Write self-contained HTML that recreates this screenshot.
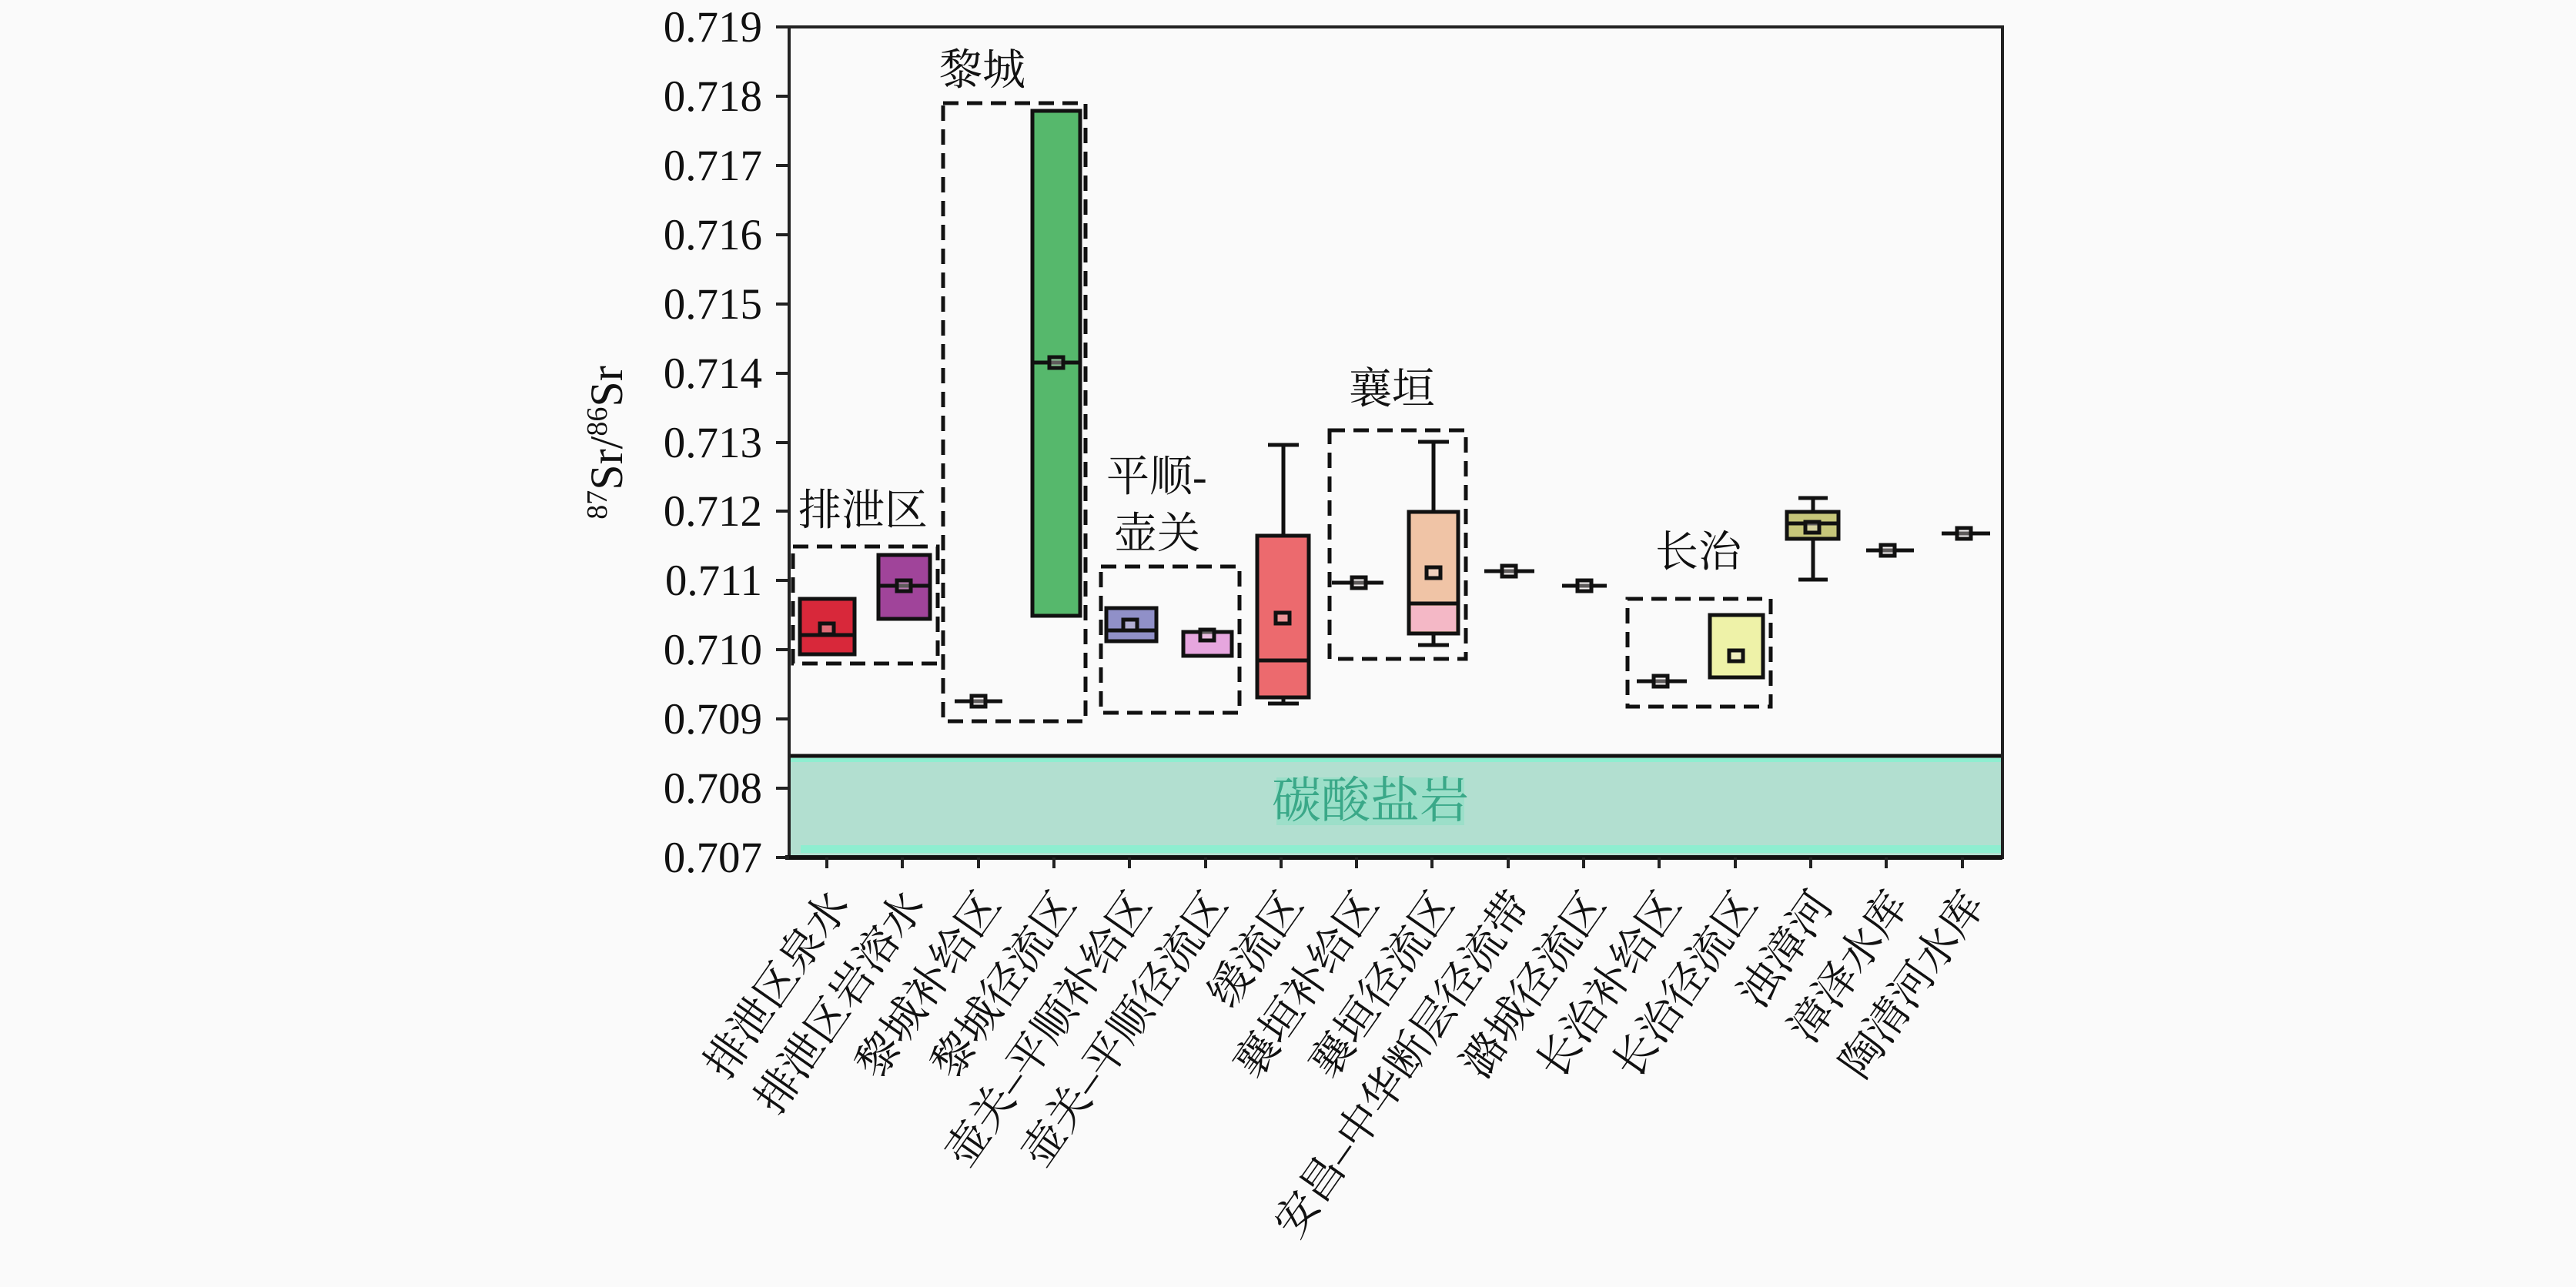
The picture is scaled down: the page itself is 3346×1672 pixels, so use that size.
<!DOCTYPE html>
<html><head><meta charset="utf-8"><style>
html,body{margin:0;padding:0;background:#fafafa;}
svg{display:block}
</style></head><body>
<svg width="3346" height="1672" viewBox="0 0 3346 1672" xmlns="http://www.w3.org/2000/svg">
<rect width="3346" height="1672" fill="#fafafa"/>
<!-- carbonate band -->
<rect x="1025" y="982" width="1576" height="132" fill="#b2dfd0"/>
<rect x="1025" y="985" width="1576" height="5" fill="#8eeed0"/>
<rect x="1040" y="1098" width="1561" height="10" fill="#8eeed0"/>
<line x1="1025" y1="982" x2="2601" y2="982" stroke="#111" stroke-width="5"/>
<rect x="1658" y="1010" width="244" height="62" fill="#8ee0c4" opacity="0.6"/>
<text x="1780" y="1062" font-family="Liberation Serif, 'Noto Serif CJK SC', serif" font-size="64" fill="#3aa888" text-anchor="middle">碳酸盐岩</text>
<!-- axes frame -->
<rect x="1025" y="35" width="1576" height="1079" fill="none" stroke="#222" stroke-width="4"/>
<line x1="1020" y1="1114" x2="2601" y2="1114" stroke="#111" stroke-width="6"/>
<!-- y ticks & labels -->
<g stroke="#222" stroke-width="4">
<line x1="1008" y1="35" x2="1025" y2="35"/><line x1="1008" y1="125" x2="1025" y2="125"/><line x1="1008" y1="215" x2="1025" y2="215"/><line x1="1008" y1="305" x2="1025" y2="305"/><line x1="1008" y1="395" x2="1025" y2="395"/><line x1="1008" y1="485" x2="1025" y2="485"/><line x1="1008" y1="575" x2="1025" y2="575"/><line x1="1008" y1="664" x2="1025" y2="664"/><line x1="1008" y1="754" x2="1025" y2="754"/><line x1="1008" y1="844" x2="1025" y2="844"/><line x1="1008" y1="934" x2="1025" y2="934"/><line x1="1008" y1="1024" x2="1025" y2="1024"/><line x1="1008" y1="1114" x2="1025" y2="1114"/>
</g>
<g font-family="Liberation Serif, serif" font-size="57" fill="#111" text-anchor="end">
<text x="990" y="54">0.719</text><text x="990" y="144">0.718</text><text x="990" y="234">0.717</text><text x="990" y="324">0.716</text><text x="990" y="414">0.715</text><text x="990" y="504">0.714</text><text x="990" y="594">0.713</text><text x="990" y="683">0.712</text><text x="990" y="773">0.711</text><text x="990" y="863">0.710</text><text x="990" y="953">0.709</text><text x="990" y="1043">0.708</text><text x="990" y="1133">0.707</text>
</g>
<text transform="translate(808,575) rotate(-90)" font-family="Liberation Serif, serif" font-size="60" fill="#111" text-anchor="middle"><tspan font-size="38" dy="-20">87</tspan><tspan dy="20">Sr/</tspan><tspan font-size="38" dy="-20">86</tspan><tspan dy="20">Sr</tspan></text>
<!-- x ticks -->
<g stroke="#222" stroke-width="4">
<line x1="1074" y1="1114" x2="1074" y2="1128"/><line x1="1172" y1="1114" x2="1172" y2="1128"/><line x1="1271" y1="1114" x2="1271" y2="1128"/><line x1="1369" y1="1114" x2="1369" y2="1128"/><line x1="1467" y1="1114" x2="1467" y2="1128"/><line x1="1566" y1="1114" x2="1566" y2="1128"/><line x1="1664" y1="1114" x2="1664" y2="1128"/><line x1="1762" y1="1114" x2="1762" y2="1128"/><line x1="1860" y1="1114" x2="1860" y2="1128"/><line x1="1959" y1="1114" x2="1959" y2="1128"/><line x1="2057" y1="1114" x2="2057" y2="1128"/><line x1="2155" y1="1114" x2="2155" y2="1128"/><line x1="2254" y1="1114" x2="2254" y2="1128"/><line x1="2352" y1="1114" x2="2352" y2="1128"/><line x1="2450" y1="1114" x2="2450" y2="1128"/><line x1="2549" y1="1114" x2="2549" y2="1128"/>
</g>
<!-- x labels -->
<g font-family="Liberation Serif, 'Noto Serif CJK SC', serif" font-size="56" fill="#111" text-anchor="end" dominant-baseline="central">
<text transform="translate(1090,1165) rotate(-55)">排泄区泉水</text>
<text transform="translate(1188,1165) rotate(-55)">排泄区岩溶水</text>
<text transform="translate(1287,1165) rotate(-55)">黎城补给区</text>
<text transform="translate(1385,1165) rotate(-55)">黎城径流区</text>
<text transform="translate(1483,1165) rotate(-55)">壶关–平顺补给区</text>
<text transform="translate(1582,1165) rotate(-55)">壶关–平顺径流区</text>
<text transform="translate(1680,1165) rotate(-55)">缓流区</text>
<text transform="translate(1778,1165) rotate(-55)">襄垣补给区</text>
<text transform="translate(1876,1165) rotate(-55)">襄垣径流区</text>
<text transform="translate(1975,1165) rotate(-55)">安昌–中华断层径流带</text>
<text transform="translate(2073,1165) rotate(-55)">潞城径流区</text>
<text transform="translate(2171,1165) rotate(-55)">长治补给区</text>
<text transform="translate(2270,1165) rotate(-55)">长治径流区</text>
<text transform="translate(2368,1165) rotate(-55)">浊漳河</text>
<text transform="translate(2466,1165) rotate(-55)">漳泽水库</text>
<text transform="translate(2565,1165) rotate(-55)">陶清河水库</text>
</g>
<!-- dashed group boxes -->
<g fill="none" stroke="#111" stroke-width="5" stroke-dasharray="20,11">
<rect x="1030" y="710" width="188" height="152"/>
<rect x="1225" y="134" width="185" height="803"/>
<rect x="1430" y="736" width="180" height="190"/>
<rect x="1727" y="559" width="177" height="297"/>
<rect x="2114" y="778" width="186" height="140"/>
</g>
<g font-family="Liberation Serif, 'Noto Serif CJK SC', serif" font-size="56" fill="#111">
<text x="1037" y="682">排泄区</text>
<text x="1220" y="110">黎城</text>
<text x="1437" y="638">平顺-</text>
<text x="1447" y="712">壶关</text>
<text x="1752" y="524">襄垣</text>
<text x="2150" y="736">长治</text>
</g>
<!-- boxes -->
<g stroke="#111" stroke-width="5">
<rect x="1039" y="778" width="71" height="72" fill="#d8283a"/>
<line x1="1039" y1="825" x2="1110" y2="825"/>
<rect x="1141" y="721" width="67" height="83" fill="#a0449a"/>
<line x1="1141" y1="761" x2="1208" y2="761"/>
<line x1="1240" y1="911" x2="1302" y2="911"/>
<rect x="1341" y="144" width="62" height="656" fill="#56b86c"/>
<line x1="1341" y1="471" x2="1403" y2="471"/>
<rect x="1437" y="790" width="65" height="43" fill="#9090c8"/>
<line x1="1437" y1="819" x2="1502" y2="819"/>
<rect x="1537" y="821" width="63" height="31" fill="#e6a6de"/>
<line x1="1667" y1="578" x2="1667" y2="696"/><line x1="1647" y1="578" x2="1687" y2="578"/>
<line x1="1667" y1="906" x2="1667" y2="914"/><line x1="1647" y1="914" x2="1687" y2="914"/>
<rect x="1633" y="696" width="67" height="210" fill="#ec6a6e"/>
<line x1="1633" y1="858" x2="1700" y2="858"/>
<line x1="1730" y1="757" x2="1797" y2="757"/>
<line x1="1862" y1="574" x2="1862" y2="665"/><line x1="1842" y1="574" x2="1882" y2="574"/>
<line x1="1862" y1="823" x2="1862" y2="838"/><line x1="1842" y1="838" x2="1882" y2="838"/>
<rect x="1830" y="665" width="64" height="158" fill="#f0c4a6"/>
<rect x="1833" y="787" width="58" height="33" fill="#f4b8c6" stroke="none"/>
<line x1="1830" y1="784" x2="1894" y2="784"/>
<line x1="1928" y1="742" x2="1993" y2="742"/>
<line x1="2029" y1="761" x2="2087" y2="761"/>
<line x1="2126" y1="885" x2="2191" y2="885"/>
<rect x="2221" y="799" width="69" height="81" fill="#eef2a8"/>
<line x1="2355" y1="647" x2="2355" y2="753"/><line x1="2336" y1="647" x2="2374" y2="647"/><line x1="2336" y1="753" x2="2374" y2="753"/>
<rect x="2321" y="665" width="67" height="35" fill="#c6c67a"/>
<line x1="2321" y1="680" x2="2388" y2="680"/>
<line x1="2424" y1="715" x2="2486" y2="715"/>
<line x1="2522" y1="693" x2="2585" y2="693"/>
</g>
<!-- mean squares -->
<g fill="#f0e8e8" fill-opacity="0.35" stroke="#111" stroke-width="5">
<rect x="1065" y="810" width="18" height="14"/>
<rect x="1165" y="754" width="18" height="14"/>
<rect x="1262" y="904" width="18" height="14"/>
<rect x="1363" y="464" width="18" height="14"/>
<rect x="1459" y="805" width="18" height="14"/>
<rect x="1559" y="818" width="18" height="14"/>
<rect x="1657" y="796" width="18" height="14"/>
<rect x="1756" y="750" width="18" height="14"/>
<rect x="1853" y="737" width="18" height="14"/>
<rect x="1951" y="735" width="18" height="14"/>
<rect x="2049" y="754" width="18" height="14"/>
<rect x="2148" y="878" width="18" height="14"/>
<rect x="2246" y="845" width="18" height="14"/>
<rect x="2345" y="678" width="18" height="14"/>
<rect x="2443" y="708" width="18" height="14"/>
<rect x="2542" y="686" width="18" height="14"/>
</g>
</svg>
</body></html>
